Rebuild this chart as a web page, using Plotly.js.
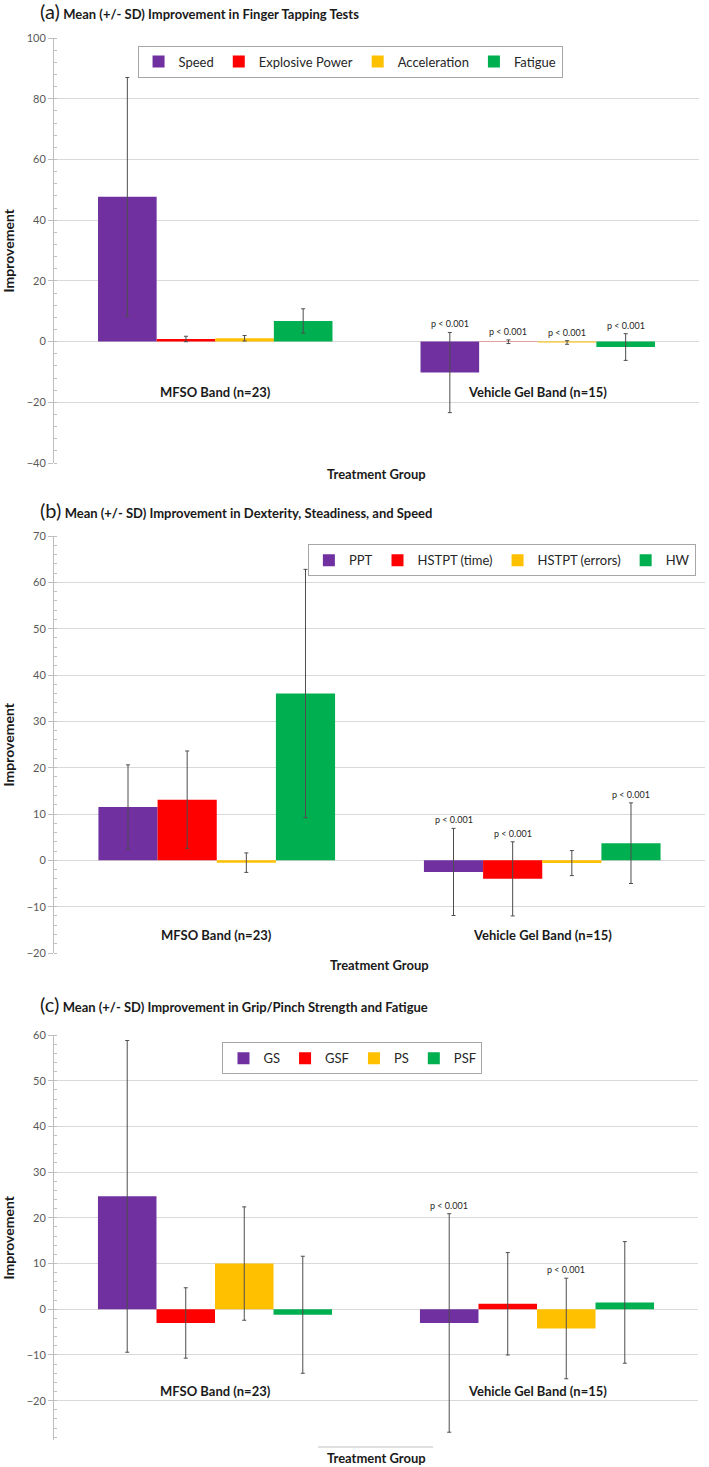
<!DOCTYPE html>
<html>
<head>
<meta charset="utf-8">
<script src="https://cdn.plot.ly/plotly-3.0.1.min.js"></script>
<style>
  html, body { margin: 0; padding: 0; background: #fff; }
  .panel { position: absolute; left: 0; width: 709px; }
</style>
</head>
<body>
<div id="pa" class="panel" style="top:0px;height:490px;"></div>
<div id="pb" class="panel" style="top:480px;height:505px;"></div>
<div id="pc" class="panel" style="top:985px;height:482px;"></div>
<script>
// ---------- shared ----------
const categories = ["MFSO Band (n=23)", "Vehicle Gel Band (n=15)"];
const seriesColors = ["#7030A0", "#FF0000", "#FFC000", "#00B050"];
const xAxisTitle = "Treatment Group";
const yAxisTitle = "Improvement";
const pText = "p < 0.001";

// ---------- panel (a) ----------
const aTitle = "Mean (+/- SD) Improvement in Finger Tapping Tests";
const aNames = ["Speed", "Explosive Power", "Acceleration", "Fatigue"];
const aSpeed = [47.7, -10.2];
const aSpeedSD = [39.3, 13.2];
const aExplosive = [0.85, -0.05];
const aExplosiveSD = [0.9, 0.6];
const aAcceleration = [1.1, -0.3];
const aAccelerationSD = [0.9, 0.6];
const aFatigue = [6.8, -1.8];
const aFatigueSD = [4.0, 4.4];
const aPvals = [["", pText], ["", pText], ["", pText], ["", pText]];
const aTicks = [-40, -20, 0, 20, 40, 60, 80, 100];

// ---------- panel (b) ----------
const bTitle = "Mean (+/- SD) Improvement in Dexterity, Steadiness, and Speed";
const bNames = ["PPT", "HSTPT (time)", "HSTPT (errors)", "HW"];
const bPPT = [11.5, -2.5];
const bPPTSD = [9.1, 9.4];
const bHSTPTtime = [13.1, -4.0];
const bHSTPTtimeSD = [10.5, 8.0];
const bHSTPTerrors = [-0.5, -0.6];
const bHSTPTerrorsSD = [2.1, 2.7];
const bHW = [36.0, 3.7];
const bHWSD = [26.8, 8.7];
const bPvals = [["", pText], ["", pText], ["", ""], ["", pText]];
const bTicks = [-20, -10, 0, 10, 20, 30, 40, 50, 60, 70];

// ---------- panel (c) ----------
const cTitle = "Mean (+/- SD) Improvement in Grip/Pinch Strength and Fatigue";
const cNames = ["GS", "GSF", "PS", "PSF"];
const cGS = [24.7, -3.0];
const cGSSD = [34.1, 23.9];
const cGSF = [-3.0, 1.2];
const cGSFSD = [7.7, 11.2];
const cPS = [10.0, -4.2];
const cPSSD = [12.4, 11.0];
const cPSF = [-1.2, 1.5];
const cPSFSD = [12.8, 13.3];
const cPvals = [["", pText], ["", ""], ["", pText], ["", ""]];
const cTicks = [-20, -10, 0, 10, 20, 30, 40, 50, 60];

// ---------- drawing ----------
const FONT = 'Lato, "Liberation Sans", sans-serif';
const BARGAP = 0.273;

function makePanel(id, cfg) {
  const traces = cfg.names.map((name, j) => ({
    type: "bar",
    name: name,
    x: categories,
    y: cfg.values[j],
    marker: { color: seriesColors[j], line: { width: 0 } },
    error_y: { type: "data", array: cfg.sds[j], visible: true, color: "#4d4d4d", thickness: 1, width: 2 },
    hoverinfo: "x+y+name"
  }));

  const annotations = [];
  const barW = (1 - BARGAP) / cfg.names.length;
  // p-value labels above the error bars
  cfg.pvals.forEach((pv, j) => {
    pv.forEach((txt, i) => {
      if (!txt) return;
      annotations.push({
        x: i + (j - (cfg.names.length - 1) / 2) * barW,
        y: cfg.values[j][i] + cfg.sds[j][i],
        xref: "x", yref: "y",
        text: txt, showarrow: false,
        yanchor: "bottom", yshift: 1,
        font: { family: FONT, size: 9, color: "#262626" }
      });
    });
  });
  // category labels
  categories.forEach((c, i) => {
    annotations.push({
      x: i, y: cfg.catLabelY, xref: "x", yref: "y",
      text: "<b>" + c + "</b>", showarrow: false,
      font: { family: FONT, size: 13, color: "#1a1a1a" }
    });
  });
  // x-axis title
  annotations.push({
    x: 0.5, y: 0, xref: "paper", yref: "paper",
    text: "<b>" + xAxisTitle + "</b>", showarrow: false,
    yanchor: "middle", yshift: cfg.xTitleShift,
    font: { family: FONT, size: 13, color: "#1a1a1a" }
  });
  // y-axis title
  annotations.push({
    x: 0, y: 0.5, xref: "paper", yref: "paper",
    text: "<b>" + yAxisTitle + "</b>", showarrow: false,
    textangle: -90, xanchor: "center", yanchor: "middle", xshift: -46,
    font: { family: FONT, size: 14, color: "#1a1a1a" }
  });

  const layout = {
    width: 709, height: cfg.height,
    margin: cfg.margin,
    paper_bgcolor: "rgba(0,0,0,0)", plot_bgcolor: "#ffffff",
    barmode: "group", bargap: BARGAP, bargroupgap: 0,
    font: { family: FONT, color: "#404040" },
    title: {
      text: "<span style='font-size:20px;font-weight:normal'>(" + cfg.letter + ")</span> <b>" + cfg.title + "</b>",
      x: 40 / 709, xanchor: "left", xref: "container",
      y: cfg.titleY, yanchor: "middle", yref: "container",
      font: { family: FONT, size: 13, color: "#1a1a1a" }
    },
    showlegend: true,
    legend: {
      orientation: "h",
      xref: "paper", yref: "paper",
      x: cfg.legendX, y: cfg.legendY, xanchor: cfg.legendXanchor, yanchor: "top",
      bordercolor: "#a6a6a6", borderwidth: 1, bgcolor: "#ffffff",
      font: { family: FONT, size: 13, color: "#262626" },
      itemwidth: 30, traceorder: "normal"
    },
    xaxis: {
      type: "category", range: [-0.5, 1.5],
      showticklabels: false, ticks: "", showgrid: false,
      zeroline: false, showline: false, fixedrange: true
    },
    yaxis: {
      range: cfg.range, tickvals: cfg.ticks,
      showgrid: true, gridcolor: "#d9d9d9", gridwidth: 1,
      zeroline: false, showline: true, linecolor: "#bfbfbf", linewidth: 1,
      ticks: "outside", ticklen: 5, tickcolor: "#bfbfbf",
      tickfont: { family: FONT, size: 11, color: "#595959" },
      minor: { dtick: cfg.minorDtick, ticks: "inside", ticklen: 3, tickcolor: "#bfbfbf", showgrid: false },
      fixedrange: true
    },
    annotations: annotations,
    shapes: cfg.shapes || []
  };
  Plotly.newPlot(id, traces, layout, { displayModeBar: false, staticPlot: true });
}

makePanel("pa", {
  letter: "a", title: aTitle, names: aNames,
  values: [aSpeed, aExplosive, aAcceleration, aFatigue],
  sds: [aSpeedSD, aExplosiveSD, aAccelerationSD, aFatigueSD],
  pvals: aPvals, ticks: aTicks, range: [-40, 100], minorDtick: 4,
  height: 490, margin: { l: 54, r: 10, t: 38, b: 27 },
  titleY: 1 - 14 / 490, legendX: 0.459, legendY: 0.982, legendXanchor: "center",
  catLabelY: -16.6, xTitleShift: -11
});

makePanel("pb", {
  letter: "b", title: bTitle, names: bNames,
  values: [bPPT, bHSTPTtime, bHSTPTerrors, bHW],
  sds: [bPPTSD, bHSTPTtimeSD, bHSTPTerrorsSD, bHWSD],
  pvals: bPvals, ticks: bTicks, range: [-20, 70], minorDtick: 2,
  height: 505, margin: { l: 54, r: 4, t: 55.5, b: 32 },
  titleY: 1 - 33 / 505, legendX: 0.986, legendY: 0.98, legendXanchor: "right",
  catLabelY: -16.2, xTitleShift: -12
});

makePanel("pc", {
  letter: "c", title: cTitle, names: cNames,
  values: [cGS, cGSF, cPS, cPSF],
  sds: [cGSSD, cGSFSD, cPSSD, cPSFSD],
  pvals: cPvals, ticks: cTicks, range: [-28.6, 60], minorDtick: 2,
  height: 482, margin: { l: 54, r: 11, t: 49.5, b: 27 },
  titleY: 1 - 22 / 482, legendX: 0.4635, legendY: 0.982, legendXanchor: "center",
  catLabelY: -17.8, xTitleShift: -18,
  shapes: [{ type: "line", xref: "paper", yref: "paper", x0: 0.41, x1: 0.5885, y0: -0.0173, y1: -0.0173, line: { color: "#bfbfbf", width: 1 } }]
});
</script>
</body>
</html>
